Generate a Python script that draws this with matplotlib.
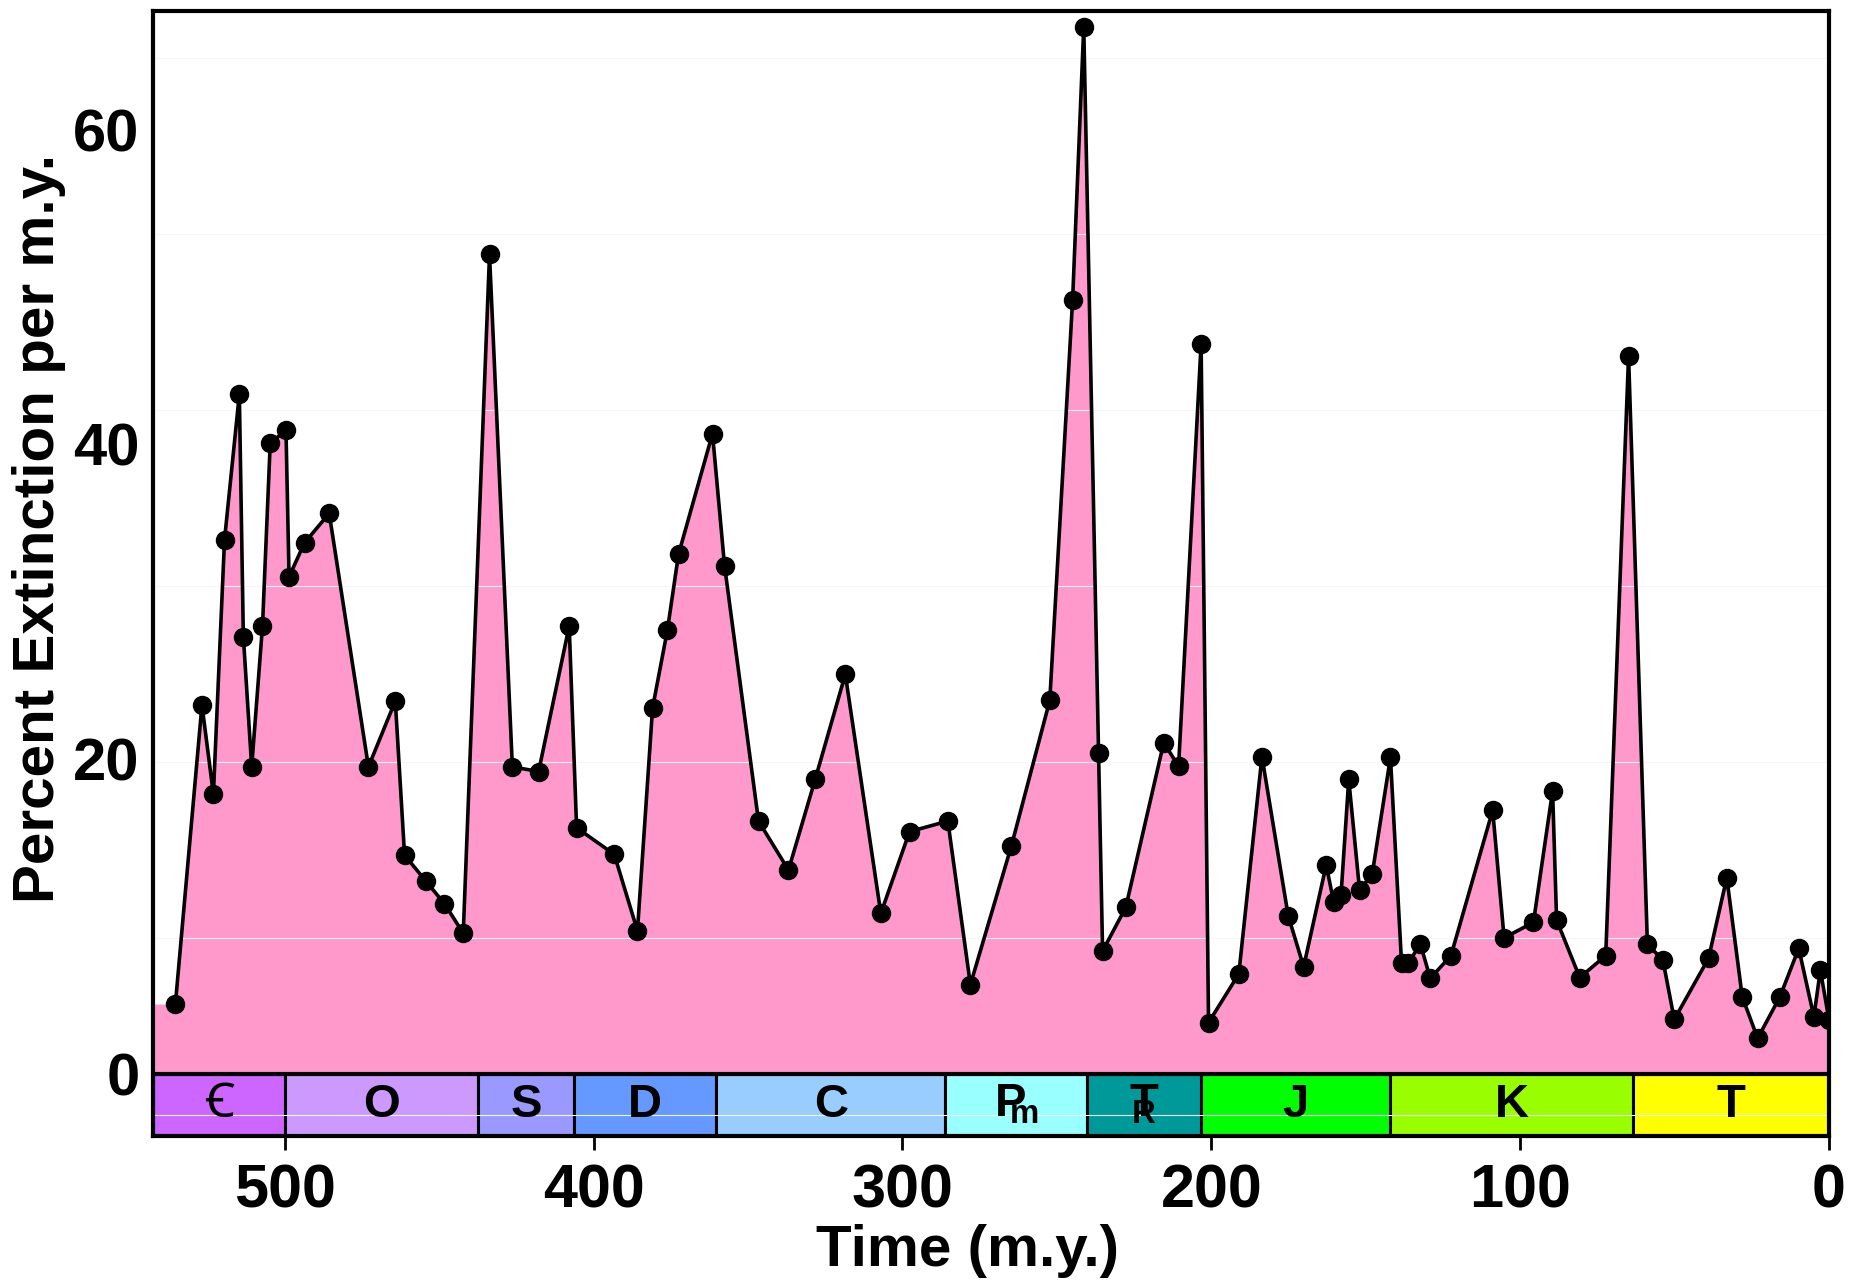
import numpy as np
import matplotlib.pyplot as plt
from matplotlib.patches import Rectangle

# edad (m.y.) y porcentaje de extincion por m.y.
ages = [535.4, 526.8, 523.1, 519.5, 514.7, 513.4, 510.7, 507.2, 504.7, 499.6,
        498.6, 493.6, 485.6, 472.9, 464.2, 461.2, 454.4, 448.3, 442.2, 433.7,
        426.3, 417.8, 407.9, 405.5, 393.3, 385.8, 380.9, 376.1, 372.5, 361.5,
        357.6, 346.6, 336.9, 328.2, 318.5, 307.0, 297.7, 285.3, 278.0, 264.7,
        252.3, 244.9, 241.3, 236.5, 235.2, 227.7, 215.4, 210.6, 203.3, 200.9,
        191.1, 183.6, 175.1, 170.1, 162.8, 160.4, 158.0, 155.5, 152.0, 147.9,
        142.0, 138.4, 136.3, 132.3, 129.1, 122.4, 108.9, 105.2, 95.7, 89.5,
        88.2, 80.7, 72.3, 64.9, 58.8, 53.8, 50.1, 39.0, 33.1, 28.1,
        23.1, 15.9, 9.8, 4.9, 2.8, 0.0]
pct = [4.42, 23.43, 17.75, 33.92, 43.18, 27.77, 19.50, 28.45, 40.06, 40.91,
       31.58, 33.74, 35.61, 19.50, 23.68, 13.88, 12.26, 10.80, 8.92, 52.07,
       19.50, 19.20, 28.45, 15.63, 13.93, 9.07, 23.24, 28.19, 33.01, 40.68,
       32.28, 16.05, 12.94, 18.74, 25.38, 10.18, 15.38, 16.05, 5.65, 14.49,
       23.72, 49.20, 66.55, 20.37, 7.79, 10.56, 21.04, 19.53, 46.38, 3.24,
       6.33, 20.15, 10.03, 6.79, 13.26, 10.92, 11.35, 18.70, 11.67, 12.68,
       20.10, 7.01, 7.01, 8.23, 6.05, 7.50, 16.74, 8.63, 9.61, 17.97,
       9.76, 6.10, 7.50, 45.61, 8.21, 7.23, 3.44, 7.33, 12.45, 4.88,
       2.24, 4.88, 7.96, 3.61, 6.58, 3.40]

# periodos geologicos
period_edges = [542.5, 500.0, 437.5, 406.3, 360.3, 286.1, 240.2, 203.3, 142.0, 63.6, 0.0]
period_labels = ['\uA792', 'O', 'S', 'D', 'C',
                 r'$\mathbf{P}_{\!\!\!\mathbf{m}}$',
                 r'$\mathbf{T}_{\!\!\!\!\!\mathbf{R}}$',
                 'J', 'K', 'T']
period_colors = ['#CC66FF', '#CC99FF', '#9999FF', '#6699FF', '#99CCFF',
                 '#99FFFF', '#009999', '#00FF00', '#99FF00', '#FFFF00']

# lineas claras del escaneo original
scan_rows = [-2.64, 8.59, 19.80, 30.99, 42.18, 53.37, 64.59]

x_left, x_right = 542.5, 0.0
y_low, y_high = -3.97, 67.55

plt.rcParams['font.family'] = ['Liberation Sans', 'Noto Sans', 'DejaVu Sans']
plt.rcParams['mathtext.fontset'] = 'custom'
plt.rcParams['mathtext.bf'] = 'Liberation Sans:bold'
plt.rcParams['mathtext.rm'] = 'Liberation Sans'

fig = plt.figure(figsize=(18.58, 12.87), dpi=100)
ax = fig.add_axes([0.0826, 0.1173, 0.9018, 0.8742])

# relleno rosado, con el primer valor extendido hasta el borde izquierdo
x_fill = [x_left] + ages
y_fill = [pct[0]] + pct
ax.fill_between(x_fill, 0, y_fill, color='#FF99CC', linewidth=0, zorder=1)
ax.plot(ages, pct, color='black', linewidth=2.6, marker='o',
        markersize=13, markerfacecolor='black', zorder=5)

# barra de periodos
for i in range(len(period_labels)):
    a, b = period_edges[i], period_edges[i + 1]
    ax.add_patch(Rectangle((b, y_low), a - b, -y_low, facecolor=period_colors[i],
                           edgecolor='black', linewidth=2.2, zorder=2))
    ax.text((a + b) / 2, y_low / 2, period_labels[i], ha='center', va='center',
            fontsize=34, fontweight='bold', zorder=6)
ax.axhline(0, color='black', linewidth=3, zorder=4)

for r in scan_rows:
    ax.axhline(r, color='#f3f6fa', linewidth=0.8, zorder=3)

ax.set_xlim(x_left, x_right)
ax.set_ylim(y_low, y_high)
ax.set_xticks([500, 400, 300, 200, 100, 0])
ax.set_yticks([0, 20, 40, 60])
ax.tick_params(axis='x', length=10, width=2, pad=10, labelsize=44)
ax.tick_params(axis='y', length=0, pad=10, labelsize=43)
for lab in ax.get_xticklabels() + ax.get_yticklabels():
    lab.set_fontweight('bold')
for s in ax.spines.values():
    s.set_linewidth(3)
    s.set_zorder(7)

ax.set_xlabel('Time (m.y.)', fontsize=42, fontweight='bold')
ax.set_ylabel('Percent Extinction per m.y.', fontsize=42, fontweight='bold')
ax.xaxis.set_label_coords(0.486, -0.078)
ax.yaxis.set_label_coords(-0.052, 0.54)

fig.savefig('out.png', dpi=100)
